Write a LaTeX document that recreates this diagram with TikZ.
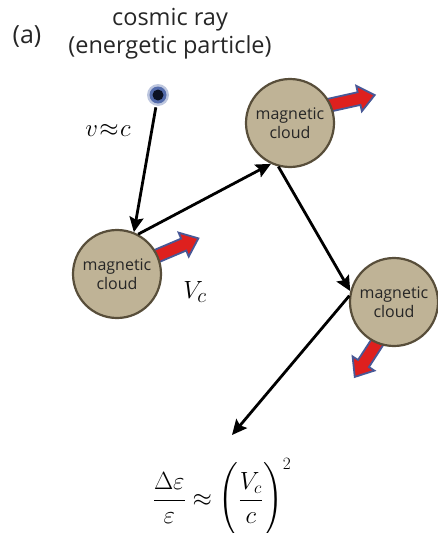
\documentclass[tikz,border=0pt]{standalone}
\usepackage{amsmath}
\usepackage{fontspec}
\usetikzlibrary{arrows.meta,calc}
\newfontfamily\labfont{Open Sans}
\definecolor{cloudfill}{RGB}{191,179,150}
\definecolor{cloudedge}{RGB}{88,78,58}
\definecolor{arrred}{RGB}{222,32,30}
\definecolor{arredge}{RGB}{72,88,150}
\definecolor{pcore}{RGB}{12,18,36}
\definecolor{pring}{RGB}{40,70,150}
\tikzset{
  cloud/.style={circle, draw=cloudedge, line width=2.2pt, fill=cloudfill,
    minimum size=88pt, inner sep=0pt, align=center,
    font=\labfont\fontsize{16}{18.5}\selectfont, text=black!85},
  flow/.style={line width=2.8pt, -{Stealth[length=15pt,width=14pt,inset=2.5pt]}},
  redarr/.style={fill=arrred, draw=arredge, line width=1.8pt, line join=miter},
  title/.style={font=\labfont\fontsize{23.5}{28}\selectfont, align=center, text=black!85}
}
\newcommand{\blockarrow}[3]{%
  \begin{scope}[shift={#1},rotate=#2]
    \filldraw[redarr] (0,6.5) -- (#3-16,6.5) -- (#3-16,13) -- (#3,0) -- (#3-16,-13) -- (#3-16,-6.5) -- (0,-6.5) -- cycle;
  \end{scope}}
\begin{document}
\begin{tikzpicture}[x=1pt,y=-1pt]
\useasboundingbox (0,0) rectangle (438,533);

% labels
\node[title, font=\labfont\fontsize{25}{28}\selectfont] (lab) at (27,37) {(a)};
\node[title] (cr) at (170,34) {cosmic ray\\(energetic particle)};

% red velocity arrows (drawn below the clouds)
\blockarrow{(145,261)}{23}{58}
\blockarrow{(321,107)}{12.5}{55}
\blockarrow{(382,335)}{-123}{50}

% clouds
\node[cloud] (c1) at (117,274) {magnetic\\cloud};
\node[cloud] (c2) at (290,123) {magnetic\\cloud};
\node[cloud] (c3) at (394,302) {magnetic\\cloud};

% particle
\fill[pring!30] (158,95) circle[radius=11pt];
\fill[pring!80] (158,95) circle[radius=8.5pt];
\node[circle, fill=pcore, minimum size=11pt, inner sep=0pt, outer sep=7pt] (p) at (158,95) {};

% math labels
\node (v) at (108,130) {\fontsize{25}{28}\selectfont$v\mskip1mu{\approx}\mskip1mu c$};
\node (vc) at (195,292) {\fontsize{32}{36}\selectfont$V_{c}$};

% formula
\node (eq) at (222,498) {\fontsize{24}{29}\selectfont$\displaystyle\frac{\Delta\varepsilon}{\varepsilon}\approx\Biggl(\frac{V_c}{c}\Biggr)^{2}$};
\coordinate (ft) at (232,435);

% trajectory
\draw[flow] (p) -- (c1.68);
\draw[flow] (c1.62) -- (c2.245);
\draw[flow] (c2.255) -- (c3.166);
\draw[flow] (c3.172) -- (ft);
\end{tikzpicture}
\end{document}
